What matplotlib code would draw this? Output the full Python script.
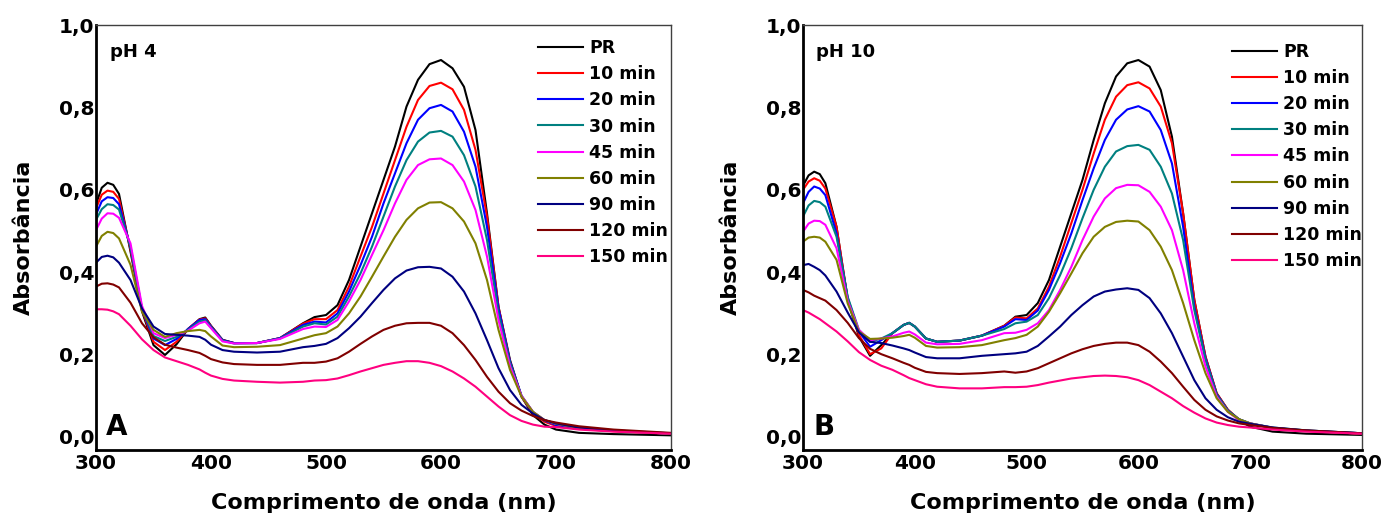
import matplotlib
matplotlib.use('Agg')
import matplotlib.pyplot as plt
from matplotlib.ticker import FuncFormatter

matplotlib.rcParams['font.family'] = 'DejaVu Sans'
matplotlib.rcParams['font.weight'] = 'bold'

# wavelength grid (nm)
wavelength = [300, 305, 310, 315, 320, 330, 340, 350, 360, 370, 380, 390, 395, 400, 410, 420, 440, 460, 480, 490,
              500, 510, 520, 530, 540, 550, 560, 570, 580, 590, 600, 610, 620, 630, 640, 650, 660, 670, 680, 690,
              700, 720, 750, 800]

labels = ['PR', '10 min', '20 min', '30 min', '45 min', '60 min', '90 min', '120 min', '150 min']
colors = ['#000000', '#ff0000', '#0000ff', '#008080', '#ff00ff', '#808000', '#000080', '#800000', '#ff0080']

# pH 4
ph4_pr = [0.565, 0.605, 0.617, 0.612, 0.590, 0.450, 0.305, 0.223, 0.199, 0.225, 0.262, 0.286, 0.290, 0.270, 0.236,
          0.228, 0.228, 0.240, 0.276, 0.291, 0.296, 0.320, 0.381, 0.462, 0.543, 0.624, 0.705, 0.802, 0.867, 0.905,
          0.915, 0.895, 0.850, 0.745, 0.543, 0.316, 0.187, 0.098, 0.053, 0.030, 0.018, 0.010, 0.007, 0.004]
ph4_10 = [0.555, 0.588, 0.598, 0.595, 0.578, 0.455, 0.308, 0.231, 0.211, 0.231, 0.262, 0.285, 0.288, 0.269, 0.235,
          0.228, 0.228, 0.240, 0.275, 0.286, 0.286, 0.308, 0.365, 0.438, 0.510, 0.591, 0.672, 0.753, 0.818, 0.852,
          0.860, 0.844, 0.794, 0.697, 0.535, 0.316, 0.183, 0.098, 0.057, 0.037, 0.027, 0.020, 0.014, 0.008]
ph4_20 = [0.540, 0.572, 0.582, 0.580, 0.565, 0.460, 0.310, 0.239, 0.223, 0.238, 0.262, 0.284, 0.286, 0.268, 0.235,
          0.228, 0.228, 0.240, 0.272, 0.280, 0.278, 0.300, 0.353, 0.417, 0.486, 0.567, 0.640, 0.713, 0.770, 0.798,
          0.806, 0.790, 0.741, 0.656, 0.510, 0.312, 0.183, 0.100, 0.059, 0.040, 0.029, 0.021, 0.015, 0.008]
ph4_30 = [0.527, 0.553, 0.565, 0.563, 0.552, 0.462, 0.312, 0.245, 0.233, 0.243, 0.260, 0.280, 0.283, 0.266, 0.234,
          0.227, 0.228, 0.239, 0.268, 0.276, 0.273, 0.292, 0.341, 0.397, 0.462, 0.535, 0.608, 0.672, 0.717, 0.739,
          0.743, 0.729, 0.684, 0.608, 0.478, 0.300, 0.179, 0.100, 0.061, 0.041, 0.032, 0.022, 0.015, 0.008]
ph4_45 = [0.502, 0.530, 0.543, 0.542, 0.532, 0.470, 0.318, 0.252, 0.240, 0.248, 0.258, 0.276, 0.280, 0.264, 0.232,
          0.227, 0.228, 0.238, 0.262, 0.268, 0.267, 0.284, 0.329, 0.381, 0.442, 0.502, 0.567, 0.624, 0.660, 0.674,
          0.676, 0.660, 0.620, 0.551, 0.438, 0.284, 0.172, 0.100, 0.061, 0.041, 0.032, 0.022, 0.015, 0.008]
ph4_60 = [0.462, 0.488, 0.498, 0.495, 0.482, 0.418, 0.304, 0.260, 0.243, 0.252, 0.257, 0.260, 0.257, 0.244, 0.222,
          0.218, 0.219, 0.223, 0.239, 0.247, 0.252, 0.268, 0.300, 0.341, 0.389, 0.438, 0.486, 0.527, 0.555, 0.569,
          0.570, 0.555, 0.523, 0.470, 0.381, 0.260, 0.163, 0.098, 0.061, 0.041, 0.032, 0.022, 0.015, 0.008]
ph4_90 = [0.423, 0.437, 0.440, 0.436, 0.423, 0.381, 0.312, 0.268, 0.250, 0.248, 0.246, 0.243, 0.236, 0.224, 0.211,
          0.207, 0.205, 0.207, 0.218, 0.221, 0.226, 0.240, 0.264, 0.292, 0.325, 0.357, 0.385, 0.404, 0.412, 0.413,
          0.409, 0.389, 0.353, 0.300, 0.235, 0.167, 0.114, 0.078, 0.057, 0.041, 0.033, 0.023, 0.016, 0.009]
ph4_120 = [0.365, 0.372, 0.373, 0.370, 0.363, 0.326, 0.276, 0.242, 0.224, 0.217, 0.211, 0.204, 0.197, 0.189, 0.181,
           0.177, 0.175, 0.175, 0.180, 0.180, 0.183, 0.191, 0.207, 0.226, 0.244, 0.260, 0.270, 0.276, 0.277, 0.277,
           0.270, 0.252, 0.223, 0.187, 0.146, 0.110, 0.082, 0.064, 0.051, 0.041, 0.035, 0.026, 0.018, 0.010]
ph4_150 = [0.310, 0.310, 0.309, 0.305, 0.298, 0.270, 0.237, 0.211, 0.193, 0.184, 0.175, 0.164, 0.156, 0.149, 0.141,
           0.137, 0.134, 0.132, 0.134, 0.137, 0.138, 0.142, 0.150, 0.159, 0.167, 0.175, 0.180, 0.184, 0.184, 0.180,
           0.172, 0.159, 0.142, 0.122, 0.098, 0.074, 0.053, 0.039, 0.030, 0.025, 0.024, 0.018, 0.013, 0.008]

# pH 10
ph10_pr = [0.610, 0.635, 0.644, 0.638, 0.616, 0.510, 0.332, 0.244, 0.197, 0.223, 0.252, 0.272, 0.277, 0.268, 0.239,
           0.231, 0.234, 0.246, 0.270, 0.292, 0.296, 0.325, 0.381, 0.462, 0.543, 0.624, 0.721, 0.810, 0.875, 0.907,
           0.915, 0.899, 0.842, 0.729, 0.543, 0.333, 0.195, 0.106, 0.066, 0.041, 0.025, 0.013, 0.008, 0.005]
ph10_10 = [0.600, 0.620, 0.628, 0.622, 0.603, 0.510, 0.335, 0.248, 0.201, 0.215, 0.252, 0.272, 0.277, 0.268, 0.239,
           0.231, 0.234, 0.246, 0.270, 0.290, 0.288, 0.312, 0.365, 0.438, 0.519, 0.600, 0.688, 0.770, 0.826, 0.854,
           0.861, 0.846, 0.802, 0.713, 0.543, 0.333, 0.195, 0.106, 0.066, 0.043, 0.032, 0.022, 0.015, 0.008]
ph10_20 = [0.567, 0.595, 0.608, 0.603, 0.587, 0.494, 0.337, 0.256, 0.219, 0.235, 0.252, 0.272, 0.277, 0.268, 0.239,
           0.231, 0.234, 0.246, 0.268, 0.286, 0.284, 0.307, 0.357, 0.422, 0.494, 0.575, 0.652, 0.721, 0.770, 0.795,
           0.803, 0.790, 0.745, 0.664, 0.510, 0.316, 0.191, 0.104, 0.064, 0.043, 0.033, 0.022, 0.015, 0.009]
ph10_30 = [0.535, 0.562, 0.573, 0.570, 0.559, 0.486, 0.340, 0.260, 0.231, 0.239, 0.252, 0.272, 0.277, 0.268, 0.239,
           0.231, 0.234, 0.246, 0.262, 0.276, 0.280, 0.296, 0.337, 0.393, 0.458, 0.531, 0.600, 0.656, 0.693, 0.706,
           0.709, 0.697, 0.656, 0.591, 0.478, 0.308, 0.187, 0.102, 0.064, 0.043, 0.033, 0.023, 0.016, 0.009]
ph10_45 = [0.498, 0.518, 0.525, 0.524, 0.515, 0.458, 0.330, 0.260, 0.235, 0.239, 0.244, 0.253, 0.256, 0.249, 0.229,
           0.225, 0.226, 0.235, 0.252, 0.253, 0.260, 0.276, 0.308, 0.357, 0.413, 0.478, 0.535, 0.579, 0.604, 0.612,
           0.611, 0.595, 0.559, 0.502, 0.405, 0.276, 0.171, 0.098, 0.061, 0.041, 0.033, 0.022, 0.015, 0.008]
ph10_60 = [0.474, 0.484, 0.486, 0.484, 0.474, 0.430, 0.324, 0.256, 0.238, 0.239, 0.241, 0.245, 0.248, 0.241, 0.221,
           0.217, 0.218, 0.223, 0.235, 0.240, 0.248, 0.268, 0.304, 0.349, 0.397, 0.446, 0.486, 0.510, 0.522, 0.525,
           0.523, 0.502, 0.462, 0.405, 0.325, 0.235, 0.155, 0.094, 0.061, 0.043, 0.033, 0.022, 0.015, 0.008]
ph10_90 = [0.417, 0.420, 0.413, 0.405, 0.392, 0.353, 0.302, 0.254, 0.231, 0.228, 0.222, 0.215, 0.211, 0.205, 0.194,
           0.191, 0.191, 0.197, 0.201, 0.203, 0.207, 0.221, 0.244, 0.268, 0.296, 0.320, 0.341, 0.353, 0.358, 0.361,
           0.357, 0.337, 0.300, 0.252, 0.195, 0.138, 0.094, 0.066, 0.048, 0.037, 0.032, 0.023, 0.016, 0.009]
ph10_120 = [0.357, 0.351, 0.343, 0.337, 0.331, 0.308, 0.277, 0.240, 0.214, 0.201, 0.191, 0.180, 0.175, 0.168, 0.158,
            0.155, 0.153, 0.155, 0.159, 0.156, 0.159, 0.167, 0.179, 0.191, 0.203, 0.213, 0.221, 0.226, 0.229, 0.229,
            0.223, 0.207, 0.183, 0.155, 0.122, 0.090, 0.066, 0.050, 0.040, 0.033, 0.029, 0.022, 0.016, 0.009]
ph10_150 = [0.308, 0.302, 0.294, 0.286, 0.276, 0.256, 0.232, 0.206, 0.187, 0.173, 0.163, 0.150, 0.143, 0.138, 0.128,
            0.122, 0.118, 0.118, 0.121, 0.121, 0.122, 0.126, 0.132, 0.137, 0.142, 0.145, 0.148, 0.149, 0.148, 0.145,
            0.138, 0.126, 0.110, 0.094, 0.075, 0.059, 0.045, 0.035, 0.029, 0.025, 0.023, 0.018, 0.013, 0.008]

ph4_series = [ph4_pr, ph4_10, ph4_20, ph4_30, ph4_45, ph4_60, ph4_90, ph4_120, ph4_150]
ph10_series = [ph10_pr, ph10_10, ph10_20, ph10_30, ph10_45, ph10_60, ph10_90, ph10_120, ph10_150]


def comma_fmt(v, pos):
    return f'{v:.1f}'.replace('.', ',')


def draw_panel(ax, series, ph_text, letter, leg_anchor):
    for ys, lab, col in zip(series, labels, colors):
        ax.plot(wavelength, ys, color=col, lw=1.5, label=lab)
    ax.set_xlim(300, 800)
    ax.set_ylim(-0.0316, 1.0)
    ax.set_xticks([300, 400, 500, 600, 700, 800])
    ax.set_yticks([0.0, 0.2, 0.4, 0.6, 0.8, 1.0])
    ax.yaxis.set_major_formatter(FuncFormatter(comma_fmt))
    ax.tick_params(axis='x', length=0, labelsize=14.5, pad=3)
    ax.tick_params(axis='y', length=0, labelsize=14.5, pad=1)
    # spines: thick left/bottom, thin top/right
    ax.spines['left'].set_linewidth(2)
    ax.spines['bottom'].set_linewidth(2)
    ax.spines['top'].set_linewidth(1)
    ax.spines['right'].set_linewidth(1)
    ax.spines['top'].set_color('#404040')
    ax.spines['right'].set_color('#404040')
    ax.set_xlabel('Comprimento de onda (nm)', fontsize=16, fontweight='bold', labelpad=14)
    ax.set_ylabel('Absorbância', fontsize=16, fontweight='bold', labelpad=18)
    ax.text(0.024, 0.936, ph_text, transform=ax.transAxes, fontsize=13, fontweight='bold', va='center', ha='left')
    ax.text(0.018, 0.022, letter, transform=ax.transAxes, fontsize=20, fontweight='bold', va='bottom', ha='left')
    ax.legend(loc='upper left', bbox_to_anchor=leg_anchor, frameon=False, handlelength=2.6,
              handletextpad=0.35, labelspacing=0.47, borderaxespad=0, borderpad=0,
              prop={'weight': 'bold', 'size': 12.5})


fig = plt.figure(figsize=(13.82, 5.15), dpi=100)
ax_a = fig.add_axes([96 / 1382, 1 - 450 / 515, 575 / 1382, 425 / 515])
ax_b = fig.add_axes([803 / 1382, 1 - 450 / 515, 559 / 1382, 425 / 515])
draw_panel(ax_a, ph4_series, 'pH 4', 'A', (0.769, 0.967))
draw_panel(ax_b, ph10_series, 'pH 10', 'B', (0.767, 0.958))
fig.savefig('out.png', dpi=100)
